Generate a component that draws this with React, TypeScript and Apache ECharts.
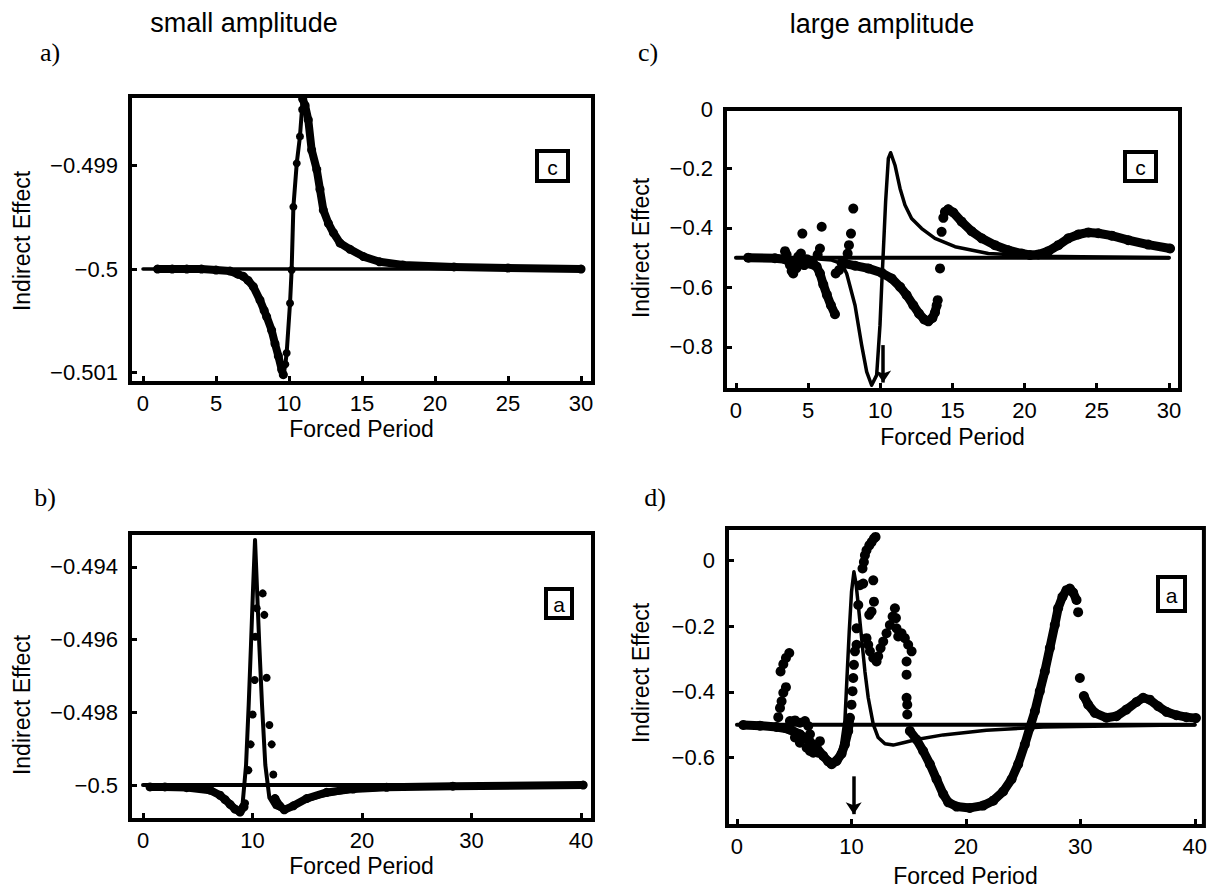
import { useEffect, useRef } from "react";
import * as echarts from "echarts";

type P = [number, number][];

// ---------- tick values ----------
const xTicks30 = [0, 5, 10, 15, 20, 25, 30];
const xTicks40 = [0, 10, 20, 30, 40];
const aYTicks = [-0.501, -0.5, -0.499];
const bYTicks = [-0.5, -0.498, -0.496, -0.494];
const cYTicks = [-0.8, -0.6, -0.4, -0.2, 0];
const dYTicks = [-0.6, -0.4, -0.2, 0];

// ---------- panel a (small amplitude, box "c") ----------
const aBaseline: P = [[0, -0.5], [30, -0.5]];
const aModel: P = [[1, -0.5], [5, -0.50001], [6, -0.50002], [6.9, -0.50007], [7.56, -0.50017], [8.01, -0.5003], [8.47, -0.50046], [8.81, -0.50059], [9.04, -0.50072], [9.27, -0.50084], [9.5, -0.50097], [9.61, -0.50102], [9.75, -0.50092], [9.84, -0.50081], [10.07, -0.50033], [10.18, -0.50001], [10.3, -0.4994], [10.53, -0.49898], [10.75, -0.49872], [10.94, -0.49836], [11.1, -0.49842], [11.32, -0.49856], [11.55, -0.49885], [11.9, -0.49904], [12.12, -0.49923], [12.35, -0.49943], [12.7, -0.49956], [13.04, -0.49965], [13.5, -0.49975], [14.18, -0.49981], [15.1, -0.49988], [16.2, -0.49993], [17.8, -0.49996], [21.3, -0.49998], [30, -0.5]];
const aBandLeft: P = [[1, -0.5], [2, -0.5], [3, -0.5], [4, -0.5], [5, -0.50001], [5.96, -0.50002], [6.5, -0.50005], [6.87, -0.50007], [7.2, -0.50011], [7.56, -0.50017], [8.01, -0.5003], [8.3, -0.5004], [8.47, -0.50046], [8.81, -0.50059], [9.04, -0.50072], [9.27, -0.50084], [9.5, -0.50097], [9.61, -0.50102]];
const aDots: P = [[9.75, -0.50092], [9.84, -0.50081], [10.07, -0.50033], [10.18, -0.50001], [10.3, -0.4994], [10.53, -0.49898], [10.75, -0.49872], [10.9, -0.49846]];
const aBandRight: P = [[10.94, -0.49836], [11.1, -0.49842], [11.32, -0.49856], [11.55, -0.49885], [11.9, -0.49904], [12.12, -0.49923], [12.35, -0.49943], [12.7, -0.49956], [13.04, -0.49965], [13.5, -0.49975], [14.18, -0.49981], [15.1, -0.49988], [16.2, -0.49993], [17.8, -0.49996], [21.3, -0.49998], [25, -0.49999], [30, -0.5]];

// ---------- panel b (small amplitude, box "a") ----------
const bBaseline: P = [[0, -0.5], [40, -0.5]];
const bModel: P = [[1, -0.5], [4, -0.50004], [6.12, -0.50009], [7.03, -0.50025], [7.95, -0.50048], [8.71, -0.5007], [9.1, -0.5005], [9.41, -0.49945], [9.65, -0.4978], [9.86, -0.49615], [10.05, -0.49459], [10.23, -0.49326], [10.41, -0.49459], [10.62, -0.49615], [10.87, -0.4978], [11.17, -0.49945], [11.54, -0.50035], [12.05, -0.5006], [12.82, -0.50068], [13.73, -0.50055], [16.16, -0.5003], [19.2, -0.50014], [25.3, -0.50005], [40.2, -0.5]];
const bBandLeft: P = [[0.64, -0.50005], [2, -0.50005], [3.99, -0.50007], [6.12, -0.50014], [7.03, -0.50028], [7.5, -0.5004], [7.95, -0.50053], [8.4, -0.50066], [8.86, -0.50074], [9.22, -0.5006]];
const bDots: P = [[9.32, -0.5005], [9.62, -0.49959], [9.83, -0.49888], [10.01, -0.49806], [10.2, -0.49711], [10.25, -0.49592], [10.38, -0.49514], [10.93, -0.49473], [11.08, -0.49532], [11.29, -0.49705], [11.54, -0.49835], [11.75, -0.49888], [11.9, -0.49971]];
const bBandRight: P = [[12.05, -0.50037], [12.51, -0.50058], [12.9, -0.50068], [13.73, -0.50057], [14.95, -0.50037], [16.77, -0.5002], [19.2, -0.50011], [22.25, -0.50006], [28.3, -0.50003], [40.2, -0.5]];

// ---------- panel c (large amplitude, box "c") ----------
const cBaseline: P = [[0, -0.5], [30, -0.5]];
const cModel: P = [[1, -0.5], [5, -0.502], [6.63, -0.508], [7.32, -0.52], [7.67, -0.553], [8.25, -0.66], [8.71, -0.794], [9.06, -0.884], [9.4, -0.929], [9.75, -0.895], [9.98, -0.727], [10.1, -0.592], [10.21, -0.48], [10.37, -0.312], [10.56, -0.166], [10.72, -0.147], [11.02, -0.189], [11.37, -0.267], [11.71, -0.323], [12.17, -0.368], [12.87, -0.402], [13.79, -0.435], [15.18, -0.463], [17.49, -0.486], [21, -0.495], [30, -0.5]];
const cBand1: P = [[0.85, -0.5], [2.7, -0.502], [3.4, -0.505], [3.86, -0.52], [4.2, -0.522], [4.6, -0.52], [5.13, -0.52], [5.59, -0.53], [5.82, -0.553], [6.05, -0.59], [6.3, -0.625], [6.58, -0.66], [6.86, -0.69]];
const cDots1: P = [[3.4, -0.478], [3.51, -0.49], [3.63, -0.51], [3.74, -0.525], [3.86, -0.545], [3.97, -0.553], [4.2, -0.535], [4.32, -0.496], [4.5, -0.486], [4.6, -0.505], [4.73, -0.525], [4.9, -0.505], [5.13, -0.51], [5.36, -0.52], [4.6, -0.419], [5.94, -0.396], [5.82, -0.469], [5.66, -0.49], [6.91, -0.553], [7.14, -0.542], [7.44, -0.514], [7.74, -0.486], [7.83, -0.458], [7.97, -0.419], [8.13, -0.335]];
const cBand2: P = [[7.32, -0.518], [8.25, -0.527], [9.17, -0.536], [10.1, -0.551], [10.79, -0.57], [11.37, -0.598], [11.83, -0.626], [12.29, -0.66], [12.68, -0.688], [13.05, -0.708], [13.33, -0.714], [13.61, -0.703], [13.79, -0.684], [13.91, -0.66]];
const cDots2: P = [[13.98, -0.643], [14.14, -0.536], [14.25, -0.413], [14.37, -0.366]];
const cBand3: P = [[14.48, -0.346], [14.71, -0.337], [15.06, -0.348], [15.64, -0.379], [16.33, -0.411], [17.03, -0.435], [17.95, -0.458], [18.87, -0.475], [19.8, -0.486], [20.37, -0.491], [20.95, -0.489], [21.65, -0.478], [22.34, -0.458], [23.03, -0.435], [23.72, -0.422], [24.42, -0.415], [25.11, -0.418], [26.04, -0.426], [27.19, -0.441], [28.57, -0.456], [30.08, -0.469]];
const cArrow: P = [[10.2, -0.794], [10.2, -0.92]];

// ---------- panel d (large amplitude, box "a") ----------
const dBaseline: P = [[0, -0.5], [40, -0.5]];
const dModel: P = [[1, -0.5], [3.5, -0.51], [6.4, -0.55], [7.5, -0.59], [8.3, -0.61], [8.9, -0.59], [9.14, -0.56], [9.43, -0.489], [9.64, -0.338], [9.81, -0.217], [10.01, -0.096], [10.22, -0.035], [10.4, -0.07], [10.6, -0.136], [10.89, -0.237], [11.18, -0.338], [11.47, -0.418], [11.91, -0.499], [12.34, -0.539], [12.93, -0.558], [13.65, -0.562], [14.53, -0.555], [15.69, -0.545], [18.02, -0.531], [21.8, -0.517], [26.75, -0.507], [40, -0.5]];
const dBand1: P = [[0.55, -0.501], [2.01, -0.503], [3.46, -0.507], [4.63, -0.514], [5.5, -0.529], [6.38, -0.552], [6.96, -0.57], [7.54, -0.595], [7.98, -0.612], [8.27, -0.62], [8.71, -0.61], [9.14, -0.588], [9.43, -0.56], [9.72, -0.519], [9.87, -0.479]];
const dDots1: P = [[3.61, -0.477], [3.76, -0.449], [3.9, -0.429], [4.05, -0.403], [4.28, -0.386], [3.81, -0.338], [4.05, -0.316], [4.28, -0.297], [4.57, -0.282], [4.63, -0.489], [5.07, -0.487], [5.5, -0.494], [5.94, -0.489], [6.23, -0.504], [6.38, -0.529], [5.07, -0.539], [5.5, -0.555], [6.09, -0.57], [6.38, -0.58], [6.67, -0.585], [7.1, -0.585], [7.25, -0.55]];
const dDots2: P = [[10.01, -0.439], [10.1, -0.398], [10.16, -0.358], [10.22, -0.318], [10.31, -0.277], [10.45, -0.257], [10.45, -0.207], [10.6, -0.136], [10.74, -0.076], [11.03, -0.071], [10.97, -0.025], [11.09, -0.005], [11.18, 0.015], [11.32, 0.03], [11.56, 0.045], [11.76, 0.055], [11.97, 0.066], [12.11, 0.071], [11.91, -0.061], [11.97, -0.126], [11.76, -0.156], [11.56, -0.166], [11.32, -0.237], [11.47, -0.257], [11.62, -0.277], [11.91, -0.297], [12.2, -0.308], [12.34, -0.292], [12.55, -0.267], [12.78, -0.247], [13.07, -0.222], [13.36, -0.197], [13.6, -0.171], [13.8, -0.146], [13.89, -0.176], [13.94, -0.207], [14.09, -0.232], [14.38, -0.222], [14.67, -0.237], [14.96, -0.257], [15.26, -0.277], [14.82, -0.308], [14.82, -0.348], [14.82, -0.418], [14.88, -0.439], [14.88, -0.469]];
const dBand2: P = [[15.11, -0.519], [15.69, -0.545], [16.27, -0.58], [16.86, -0.62], [17.44, -0.666], [18.02, -0.711], [18.46, -0.736], [19.19, -0.749], [20.35, -0.753], [21.51, -0.746], [22.39, -0.731], [23.26, -0.703], [23.99, -0.666], [24.57, -0.62], [25.15, -0.56], [25.59, -0.509], [26.03, -0.459], [26.46, -0.398], [26.9, -0.338], [27.34, -0.267], [27.77, -0.197], [28.06, -0.146], [28.44, -0.111], [28.79, -0.091], [29.08, -0.086], [29.37, -0.098], [29.67, -0.121]];
const dDots3: P = [[29.81, -0.158], [29.96, -0.358]];
const dBand3: P = [[30.31, -0.413], [30.69, -0.439], [31.27, -0.464], [32.29, -0.479], [33.16, -0.474], [34.03, -0.454], [34.91, -0.431], [35.49, -0.418], [36.07, -0.424], [36.8, -0.444], [37.53, -0.461], [38.4, -0.471], [39.27, -0.477], [40.1, -0.48]];
const dArrow: P = [[10.2, -0.657], [10.2, -0.772]];

// ---------- rendering ----------
const SANS = "'Liberation Sans', Arial, Helvetica, sans-serif";
const SERIF = "'Liberation Serif', 'Times New Roman', serif";

function fmt(v: number): string {
  const s = String(parseFloat(Number(v).toFixed(4)));
  return s.replace("-", "\u2212");
}

function xAxis(gi: number, min: number, max: number, ticks: number[], nameGap: number) {
  return {
    type: "value", gridIndex: gi, min, max,
    name: "Forced Period", nameLocation: "middle", nameGap,
    nameTextStyle: { fontFamily: SANS, fontSize: 23, color: "#000" },
    axisLine: { show: false, onZero: false },
    axisTick: { show: true, inside: true, length: 7, lineStyle: { color: "#000", width: 3 }, customValues: ticks },
    axisLabel: { show: true, customValues: ticks, margin: 9, fontFamily: SANS, fontSize: 22, color: "#000", formatter: (v: number) => fmt(v) },
    splitLine: { show: false },
  };
}

function yAxis(gi: number, min: number, max: number, ticks: number[]) {
  return {
    type: "value", gridIndex: gi, min, max,
    axisLine: { show: false, onZero: false },
    axisTick: { show: true, inside: true, length: 7, lineStyle: { color: "#000", width: 3 }, customValues: ticks },
    axisLabel: { show: true, customValues: ticks, margin: 12, fontFamily: SANS, fontSize: 22, color: "#000", formatter: (v: number) => fmt(v) },
    splitLine: { show: false },
  };
}

function thin(gi: number, data: P, width: number) {
  return {
    type: "line", xAxisIndex: gi, yAxisIndex: gi, data, symbol: "none", showSymbol: false,
    lineStyle: { color: "#000", width, cap: "round", join: "round" }, silent: true, z: 4,
  };
}

function band(gi: number, data: P, w: number) {
  return {
    type: "line", xAxisIndex: gi, yAxisIndex: gi, data, symbol: "circle", symbolSize: w,
    showSymbol: true, showAllSymbol: true, itemStyle: { color: "#000", opacity: 1 },
    lineStyle: { color: "#000", width: w - 1, cap: "round", join: "round" }, silent: true, z: 3,
  };
}

function dots(gi: number, data: P, size: number) {
  return {
    type: "scatter", xAxisIndex: gi, yAxisIndex: gi, data, symbolSize: size,
    itemStyle: { color: "#000", opacity: 1 }, silent: true, z: 3,
  };
}

function arrow(gi: number, pts: P) {
  return {
    type: "line", xAxisIndex: gi, yAxisIndex: gi, data: [], silent: true,
    markLine: {
      silent: true, symbol: ["none", "arrow"], symbolSize: 12, animation: false,
      label: { show: false },
      lineStyle: { color: "#000", width: 3.5, type: "solid" },
      data: [[{ coord: pts[0] }, { coord: pts[1] }]],
    },
  };
}

function txt(x: number, y: number, text: string, size: number, family: string, rotation = 0) {
  return {
    type: "text", x, y, rotation, z: 100,
    style: { text, fontSize: size, fontFamily: family, fill: "#000", align: "center", verticalAlign: "middle", textAlign: "center", textVerticalAlign: "middle" },
  };
}

function box(x: number, y: number, w: number, h: number, label: string) {
  return [
    { type: "rect", z: 100, shape: { x: x + 2, y: y + 2, width: w - 4, height: h - 4 }, style: { fill: "#fff", stroke: "#000", lineWidth: 4 } },
    txt(x + w / 2, y + h / 2 + 1, label, 21, SANS),
  ];
}

export default function App() {
  const ref = useRef<HTMLDivElement>(null);
  useEffect(() => {
    if (!ref.current) return;
    const chart = echarts.init(ref.current, undefined, { renderer: "svg" });
    const gridBase = { show: true, borderColor: "#000", borderWidth: 4, backgroundColor: "transparent", containLabel: false };
    chart.setOption({
      animation: false,
      backgroundColor: "#fff",
      grid: [
        { ...gridBase, left: 130, top: 96, width: 463, height: 287 },
        { ...gridBase, left: 725, top: 109, width: 455, height: 281 },
        { ...gridBase, left: 130, top: 533, width: 463, height: 287 },
        { ...gridBase, left: 727, top: 528, width: 477, height: 299 },
      ],
      xAxis: [
        xAxis(0, -0.89, 30.82, xTicks30, 34),
        xAxis(1, -0.76, 30.77, xTicks30, 35),
        xAxis(2, -1.19, 41.1, xTicks40, 34),
        xAxis(3, -0.87, 40.8, xTicks40, 38),
      ],
      yAxis: [
        yAxis(0, -0.5011, -0.49833, aYTicks),
        yAxis(1, -0.945, 0, cYTicks),
        yAxis(2, -0.50096, -0.49307, bYTicks),
        yAxis(3, -0.808, 0.098, dYTicks),
      ],
      series: [
        // a
        thin(0, aBaseline, 3.5),
        band(0, aBandLeft, 9),
        dots(0, aDots, 8),
        band(0, aBandRight, 9),
        thin(0, aModel, 4),
        // c
        thin(1, cBaseline, 4),
        band(1, cBand1, 10),
        dots(1, cDots1, 10),
        band(1, cBand2, 10),
        dots(1, cDots2, 10),
        band(1, cBand3, 10),
        thin(1, cModel, 3.5),
        arrow(1, cArrow),
        // b
        thin(2, bBaseline, 4),
        band(2, bBandLeft, 9),
        dots(2, bDots, 8),
        band(2, bBandRight, 9),
        thin(2, bModel, 4),
        // d
        thin(3, dBaseline, 4),
        band(3, dBand1, 10),
        dots(3, dDots1, 10),
        dots(3, dDots2, 10),
        band(3, dBand2, 10),
        dots(3, dDots3, 10),
        band(3, dBand3, 10),
        thin(3, dModel, 3.5),
        arrow(3, dArrow),
      ],
      graphic: [
        txt(244, 23, "small amplitude", 27, SANS),
        txt(882, 24, "large amplitude", 27, SANS),
        txt(50, 52, "a)", 26, SERIF),
        txt(648, 52, "c)", 26, SERIF),
        txt(45, 497, "b)", 26, SERIF),
        txt(655, 497, "d)", 26, SERIF),
        txt(22, 241, "Indirect Effect", 23, SANS, Math.PI / 2),
        txt(641, 248, "Indirect Effect", 23, SANS, Math.PI / 2),
        txt(22, 705, "Indirect Effect", 23, SANS, Math.PI / 2),
        txt(641, 673, "Indirect Effect", 23, SANS, Math.PI / 2),
        ...box(535, 149, 35, 34, "c"),
        ...box(1123, 150, 35, 33, "c"),
        ...box(544, 587, 30, 33, "a"),
        ...box(1156, 575, 31, 38, "a"),
      ],
    });
    return () => chart.dispose();
  }, []);
  return <div ref={ref} style={{ position: "fixed", left: 0, top: 0, width: 1210, height: 888, background: "#fff" }} />;
}
